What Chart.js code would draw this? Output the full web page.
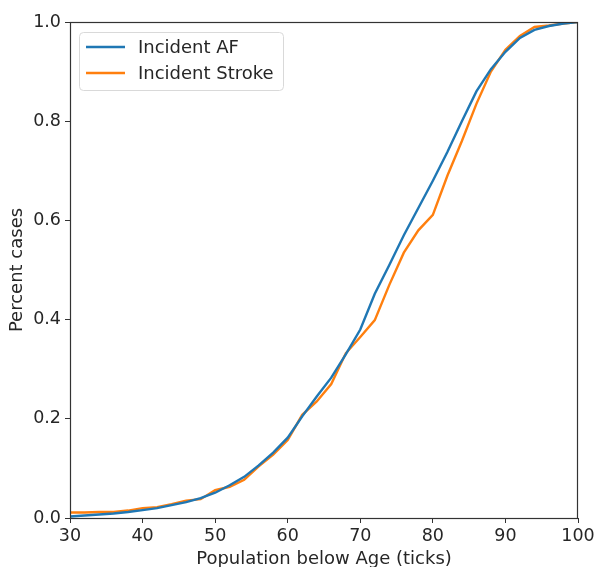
<!DOCTYPE html>
<html>
<head>
<meta charset="utf-8">
<script src="https://cdn.jsdelivr.net/npm/chart.js@4"></script>
<style>
  html, body { margin: 0; padding: 0; background: #fff; }
  #wrap { width: 595px; height: 567px; }
</style>
</head>
<body>
<div id="wrap"><canvas id="chart" width="595" height="567"></canvas></div>
<script>
var ages = [30, 32, 34, 36, 38, 40, 42, 44, 46, 48, 50, 52, 54, 56, 58, 60, 62, 64,
            66, 68, 70, 72, 74, 76, 78, 80, 82, 84, 86, 88, 90, 92, 94, 96, 98, 100];

var incidentAF = [0.003, 0.005, 0.007, 0.009, 0.012, 0.016, 0.02, 0.026, 0.032, 0.04,
                  0.051, 0.066, 0.083, 0.106, 0.132, 0.162, 0.205, 0.245, 0.283, 0.33,
                  0.38, 0.452, 0.51, 0.57, 0.625, 0.68, 0.738, 0.8, 0.86, 0.905,
                  0.94, 0.968, 0.984, 0.992, 0.997, 1.0];

var incidentStroke = [0.011, 0.011, 0.012, 0.012, 0.015, 0.02, 0.022, 0.028, 0.035, 0.038,
                      0.056, 0.063, 0.077, 0.104, 0.128, 0.157, 0.208, 0.235, 0.27, 0.332,
                      0.365, 0.399, 0.47, 0.535, 0.58, 0.611, 0.69, 0.76, 0.835, 0.9,
                      0.944, 0.972, 0.99, 0.993, 0.997, 1.0];

var xTicks = [30, 40, 50, 60, 70, 80, 90, 100];
var yTicks = [0, 0.2, 0.4, 0.6, 0.8, 1.0];

var colors = {
  blue: "#1f77b4",
  orange: "#ff7f0e"
};

function toPoints(xs, ys) {
  return xs.map(function (x, i) { return { x: x, y: ys[i] }; });
}

var tickFont = { family: "'DejaVu Sans'", size: 17.5 };
var labelFont = { family: "'DejaVu Sans'", size: 18 };
var textColor = "#262626";

// matplotlib-like frame around the plot area
var frame = {
  id: 'frame',
  afterDatasetsDraw: function (chart) {
    var a = chart.chartArea, c = chart.ctx;
    c.save();
    c.strokeStyle = "#333";
    c.lineWidth = 1.2;
    c.strokeRect(a.left + 0.5, a.top + 0.5, a.right - a.left - 1, a.bottom - a.top);
    c.restore();
  }
};

// legend box drawn inside the plot, upper left
var insideLegend = {
  id: 'insideLegend',
  afterDraw: function (chart) {
    var a = chart.chartArea, c = chart.ctx;
    var x = a.left + 9, y = a.top + 10, w = 204, h = 58, r = 4;
    c.save();
    c.fillStyle = "rgba(255,255,255,0.8)";
    c.strokeStyle = "#d9d9d9";
    c.lineWidth = 1;
    c.beginPath();
    c.roundRect(x + 0.5, y + 0.5, w, h, r);
    c.fill();
    c.stroke();
    c.font = "18px 'DejaVu Sans'";
    c.textBaseline = "middle";
    chart.data.datasets.forEach(function (ds, i) {
      var ly = y + 15 + i * 26;
      c.strokeStyle = ds.borderColor;
      c.lineWidth = 2.4;
      c.beginPath();
      c.moveTo(x + 7, ly);
      c.lineTo(x + 46, ly);
      c.stroke();
      c.fillStyle = textColor;
      c.fillText(ds.label, x + 59, ly + 1);
    });
    c.restore();
  }
};

new Chart(document.getElementById('chart').getContext('2d'), {
  type: 'line',
  data: {
    datasets: [{
      label: "Incident AF",
      data: toPoints(ages, incidentAF),
      borderColor: colors.blue,
      borderWidth: 2.4,
      pointRadius: 0,
      tension: 0,
      fill: false
    }, {
      label: "Incident Stroke",
      data: toPoints(ages, incidentStroke),
      borderColor: colors.orange,
      borderWidth: 2.4,
      pointRadius: 0,
      tension: 0,
      fill: false
    }]
  },
  options: {
    responsive: false,
    animation: false,
    layout: { padding: { left: 7, top: 22, right: 0, bottom: 0 } },
    plugins: {
      legend: { display: false },
      tooltip: { enabled: false }
    },
    scales: {
      x: {
        type: 'linear',
        min: 30,
        max: 100,
        afterBuildTicks: function (s) { s.ticks = xTicks.map(function (v) { return { value: v }; }); },
        afterFit: function (s) { s.height = 49; s.paddingRight = 17; },
        grid: { drawOnChartArea: false, drawTicks: true, tickLength: 5, color: "#333" },
        border: { display: true, color: "#333" },
        ticks: { font: tickFont, color: textColor, padding: 3, maxRotation: 0 },
        title: { display: true, text: "Population below Age (ticks)", font: labelFont, color: textColor, padding: { top: 0, bottom: -3 } }
      },
      y: {
        min: 0,
        max: 1,
        afterBuildTicks: function (s) { s.ticks = yTicks.map(function (v) { return { value: v }; }); },
        afterFit: function (s) { s.width = 63; },
        grid: { drawOnChartArea: false, drawTicks: true, tickLength: 5, color: "#333" },
        border: { display: true, color: "#333" },
        ticks: {
          font: tickFont, color: textColor, padding: 4,
          callback: function (v) { return v.toFixed(1); }
        },
        title: { display: true, text: "Percent cases", font: labelFont, color: textColor, padding: { top: 0, bottom: 2 } }
      }
    }
  },
  plugins: [frame, insideLegend]
});
</script>
</body>
</html>
